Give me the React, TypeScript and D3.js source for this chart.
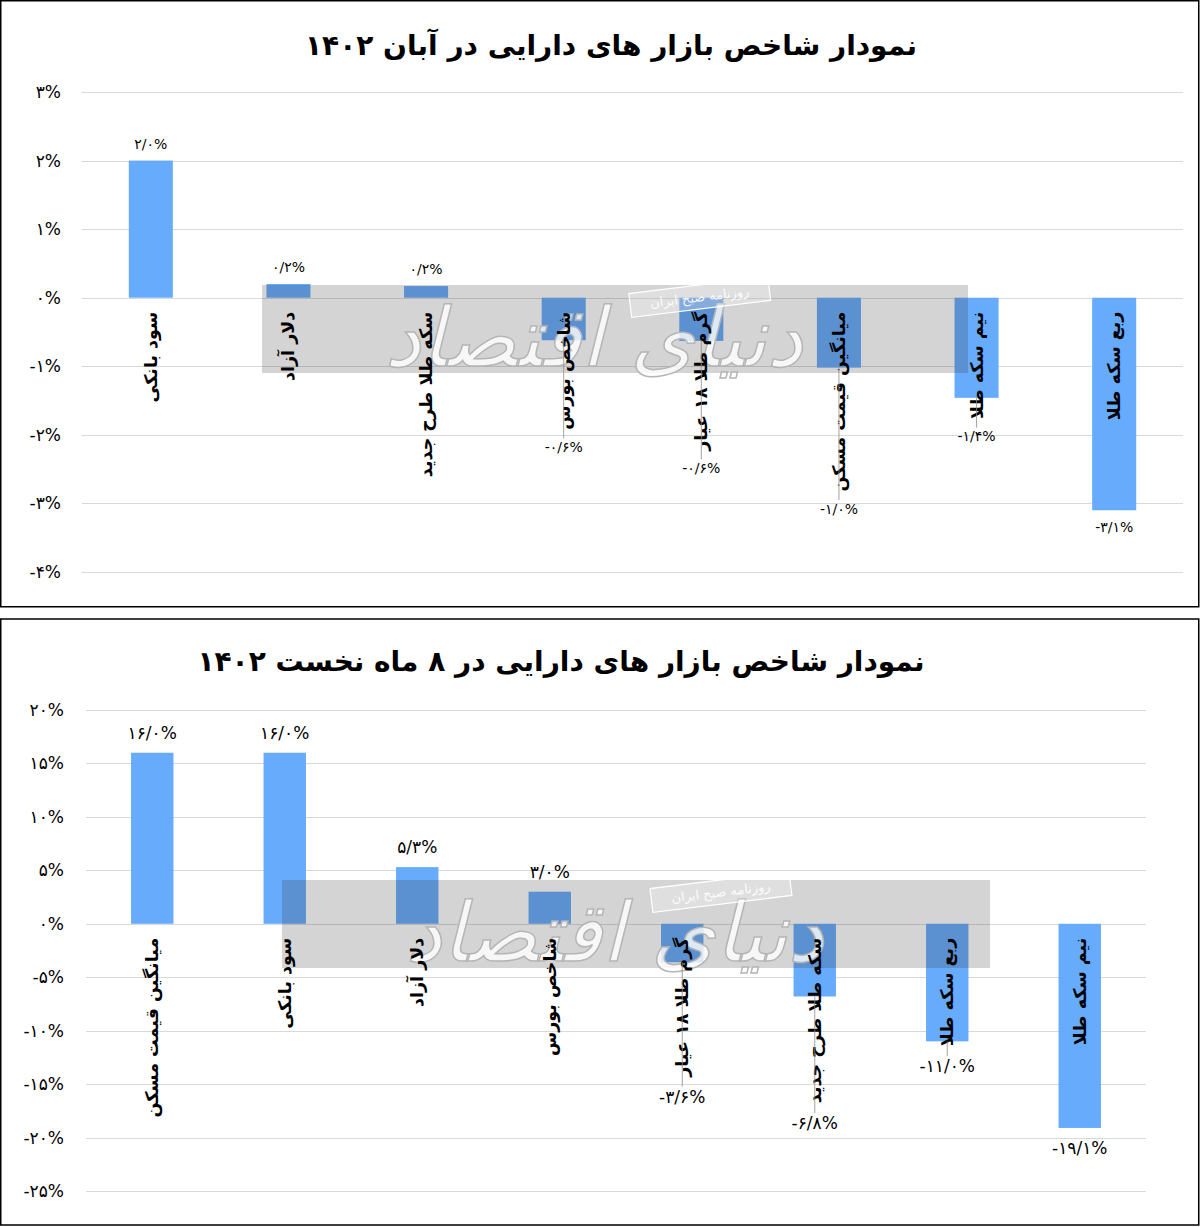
import { useEffect, useRef } from 'react';
import * as d3 from 'd3';

// chart 1: Aban 1402
const categoriesAban = ['سود بانکی', 'دلار آزاد', 'سکه طلا طرح جدید', 'شاخص بورس', 'گرم طلا ۱۸ عیار', 'میانگین قیمت مسکن', 'نیم سکه طلا', 'ربع سکه طلا'];
const valuesAban = [2.0, 0.2, 0.17, -0.62, -0.63, -1.02, -1.46, -3.1];
const dataLabelsAban = ['۲/۰%', '۰/۲%', '۰/۲%', '-۰/۶%', '-۰/۶%', '-۱/۰%', '-۱/۴%', '-۳/۱%'];
const ticksAban = [3, 2, 1, 0, -1, -2, -3, -4];
const tickLabelsAban = ['۳%', '۲%', '۱%', '۰%', '-۱%', '-۲%', '-۳%', '-۴%'];

// chart 2: first 8 months of 1402
const categories8 = ['میانگین قیمت مسکن', 'سود بانکی', 'دلار آزاد', 'شاخص بورس', 'گرم طلا ۱۸ عیار', 'سکه طلا طرح جدید', 'ربع سکه طلا', 'نیم سکه طلا'];
const values8 = [16.0, 16.0, 5.3, 3.0, -3.6, -6.8, -11.0, -19.1];
const dataLabels8 = ['۱۶/۰%', '۱۶/۰%', '۵/۳%', '۳/۰%', '-۳/۶%', '-۶/۸%', '-۱۱/۰%', '-۱۹/۱%'];
const ticks8 = [20, 15, 10, 5, 0, -5, -10, -15, -20, -25];
const tickLabels8 = ['۲۰%', '۱۵%', '۱۰%', '۵%', '۰%', '-۵%', '-۱۰%', '-۱۵%', '-۲۰%', '-۲۵%'];

const FONT = '"DejaVu Sans", sans-serif';
const BAR = '#67abfc';

interface ChartCfg {
  title: string;
  titleX: number;
  titleY: number;
  frameY: number;
  frameH: number;
  categories: string[];
  values: number[];
  dataLabels: string[];
  ticks: number[];
  tickLabels: string[];
  yTop: number;
  yBottom: number;
  xLeft: number;
  xRight: number;
  tickLabelX: number;
  dataFont: number;
  gap: number;
  wm: { x: number; y: number; w: number; h: number };
}

function drawChart(root: d3.Selection<SVGSVGElement, unknown, null, undefined>, c: ChartCfg) {
  const g = root.append('g');
  g.append('rect')
    .attr('x', 0.75).attr('y', c.frameY).attr('width', 1198).attr('height', c.frameH)
    .attr('fill', '#fff').attr('stroke', '#000').attr('stroke-width', 1.5);

  g.append('text')
    .attr('x', c.titleX).attr('y', c.titleY)
    .attr('text-anchor', 'middle').attr('dominant-baseline', 'central')
    .style('font-family', FONT).style('font-weight', 'bold').style('font-size', '28px')
    .text(c.title);

  const y = d3.scaleLinear()
    .domain([c.ticks[c.ticks.length - 1], c.ticks[0]])
    .range([c.yBottom, c.yTop]);
  const x = d3.scaleBand<string>()
    .domain(c.categories)
    .range([c.xLeft, c.xRight])
    .paddingInner(0.68)
    .paddingOuter(0.34);

  // grid + tick labels
  c.ticks.forEach((t, i) => {
    g.append('line')
      .attr('x1', c.xLeft).attr('x2', c.xRight)
      .attr('y1', Math.round(y(t)) + 0.5).attr('y2', Math.round(y(t)) + 0.5)
      .attr('stroke', '#d9d9d9').attr('stroke-width', 1);
    g.append('text')
      .attr('x', c.tickLabelX).attr('y', y(t))
      .attr('text-anchor', 'end').attr('dominant-baseline', 'central')
      .style('font-family', FONT).style('font-size', '17px')
      .text(c.tickLabels[i]);
  });

  const y0 = y(0);
  // bars
  g.selectAll('rect.bar')
    .data(c.values)
    .join('rect')
    .attr('class', 'bar')
    .attr('x', (_, i) => x(c.categories[i])!)
    .attr('width', x.bandwidth())
    .attr('y', (d) => Math.min(y(d), y0))
    .attr('height', (d) => Math.abs(y(d) - y0))
    .attr('fill', BAR);

  // watermark
  const wm = g.append('g');
  wm.append('rect')
    .attr('x', c.wm.x).attr('y', c.wm.y).attr('width', c.wm.w).attr('height', c.wm.h)
    .attr('fill', 'rgb(51,51,51)').attr('opacity', 0.21);
  wm.append('text')
    .attr('x', c.wm.x + c.wm.w * 0.47).attr('y', c.wm.y + c.wm.h * 0.92)
    .attr('text-anchor', 'middle')
    .style('font-family', FONT).style('font-size', '82px').style('font-style', 'italic')
    .attr('fill', '#fff').attr('fill-opacity', 0.8)
    .attr('stroke', '#b5b5b5').attr('stroke-width', 1.5)
    .text('دنیای اقتصاد');
  const badge = wm.append('g')
    .attr('transform', `translate(${c.wm.x + c.wm.w * 0.62},${c.wm.y + 12}) rotate(-7)`);
  badge.append('rect')
    .attr('x', -70).attr('y', -12).attr('width', 140).attr('height', 24)
    .attr('fill', '#fff').attr('fill-opacity', 0.25).attr('stroke', '#fff').attr('stroke-width', 1.2);
  badge.append('text')
    .attr('text-anchor', 'middle').attr('dominant-baseline', 'central')
    .style('font-family', FONT).style('font-size', '13px')
    .attr('fill', '#fff').attr('fill-opacity', 0.9)
    .text('روزنامه صبح ایران');

  // category labels (rotated) + data labels
  c.categories.forEach((cat, i) => {
    const cx = x(cat)! + x.bandwidth() / 2;
    const start = y0 + 14;
    const t = g.append('text')
      .attr('transform', `translate(${cx},${start}) rotate(-90)`)
      .attr('text-anchor', 'end').attr('dominant-baseline', 'central')
      .style('font-family', FONT).style('font-weight', 'bold').style('font-size', '17.5px')
      .text(cat);
    const len = (t.node() as SVGTextElement).getComputedTextLength();
    const textEnd = start + len;
    const v = c.values[i];
    let ly: number;
    if (v >= 0) {
      ly = y(v) - c.gap;
    } else {
      const barEnd = y(v);
      ly = Math.max(barEnd, textEnd) + c.gap;
      if (textEnd > barEnd) {
        g.append('line')
          .attr('x1', cx).attr('x2', cx)
          .attr('y1', barEnd).attr('y2', ly - c.dataFont * 0.6)
          .attr('stroke', '#8c8c8c').attr('stroke-width', 0.8);
      }
    }
    g.append('text')
      .attr('x', cx).attr('y', ly)
      .attr('text-anchor', 'middle').attr('dominant-baseline', 'central')
      .style('font-family', FONT).style('font-size', `${c.dataFont}px`)
      .text(c.dataLabels[i]);
  });
}

export default function App() {
  const ref = useRef<SVGSVGElement>(null);

  useEffect(() => {
    document.body.style.margin = '0';
    const svg = d3.select(ref.current!);
    svg.selectAll('*').remove();
    svg.append('rect').attr('width', 1200).attr('height', 1227).attr('fill', '#fff');

    drawChart(svg, {
      title: 'نمودار شاخص بازار های دارایی در آبان ۱۴۰۲',
      titleX: 611, titleY: 45,
      frameY: 0.75, frameH: 606,
      categories: categoriesAban, values: valuesAban, dataLabels: dataLabelsAban,
      ticks: ticksAban, tickLabels: tickLabelsAban,
      yTop: 92, yBottom: 572, xLeft: 82, xRight: 1183, tickLabelX: 61,
      dataFont: 14, gap: 17,
      wm: { x: 262, y: 285, w: 706, h: 88 },
    });

    drawChart(svg, {
      title: 'نمودار شاخص بازار های دارایی در ۸ ماه نخست ۱۴۰۲',
      titleX: 561, titleY: 661,
      frameY: 619, frameH: 606,
      categories: categories8, values: values8, dataLabels: dataLabels8,
      ticks: ticks8, tickLabels: tickLabels8,
      yTop: 710, yBottom: 1191, xLeft: 86, xRight: 1146, tickLabelX: 64,
      dataFont: 17, gap: 20,
      wm: { x: 282, y: 880, w: 708, h: 88 },
    });
  }, []);

  return <svg ref={ref} width={1200} height={1227} style={{ display: 'block' }} />;
}
